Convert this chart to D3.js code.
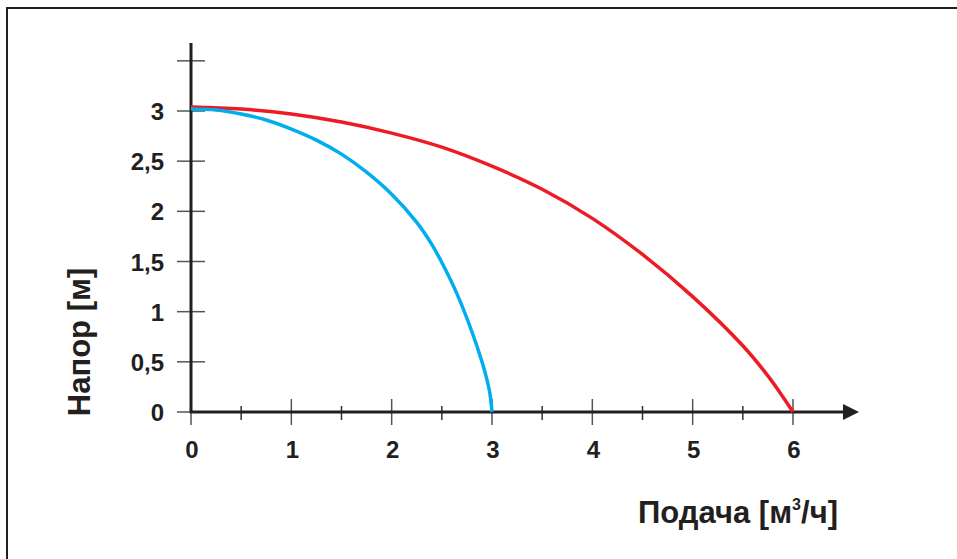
<!DOCTYPE html>
<html><head><meta charset="utf-8">
<script src="https://cdn.jsdelivr.net/npm/d3@7"></script>
<style>body{margin:0;background:#fff}svg{display:block}text{font-family:"Liberation Sans",Arial,sans-serif;font-weight:bold;fill:#231f20}</style>
</head><body>
<script>
const redQ = [0, 0.5, 1, 1.5, 2, 2.5, 3, 3.5, 4, 4.5, 5, 5.5, 5.75, 5.9, 6];
const redH = [3.04, 3.02, 2.97, 2.89, 2.78, 2.64, 2.45, 2.22, 1.93, 1.57, 1.15, 0.66, 0.36, 0.15, 0];
const blueQ = [0, 0.25, 0.5, 0.75, 1, 1.25, 1.5, 1.75, 2, 2.25, 2.4, 2.5, 2.65, 2.8, 2.9, 2.95, 2.98, 3];
const blueH = [3.02, 3.01, 2.97, 2.91, 2.82, 2.71, 2.57, 2.39, 2.17, 1.89, 1.67, 1.49, 1.18, 0.80, 0.50, 0.32, 0.18, 0];
const xTicks = [0, 1, 2, 3, 4, 5, 6];
const xMinor = [0.5, 1.5, 2.5, 3.5, 4.5, 5.5];
const yTicks = [0, 0.5, 1, 1.5, 2, 2.5, 3, 3.5];
const yLabels = ["0", "0,5", "1", "1,5", "2", "2,5", "3", ""];

const W = 957, H = 559;
const svg = d3.select("body").append("svg").attr("width", W).attr("height", H);
svg.append("rect").attr("x", 7).attr("y", 8).attr("width", 1000).attr("height", 600)
  .attr("fill", "none").attr("stroke", "#231f20").attr("stroke-width", 2);

const x = d3.scaleLinear().domain([0, 6]).range([191, 793]);
const y = d3.scaleLinear().domain([0, 3]).range([412, 111]);

// y ticks
svg.selectAll(".yt").data(yTicks).join("line")
  .attr("x1", 177).attr("x2", 205).attr("y1", d => y(d)).attr("y2", d => y(d))
  .attr("stroke", "#555").attr("stroke-width", 1.5);
svg.selectAll(".yl").data(yTicks).join("text")
  .attr("x", 164).attr("y", d => y(d) + 9).attr("text-anchor", "end")
  .attr("font-size", 24).text((d, i) => yLabels[i]);

// x ticks
svg.selectAll(".xt").data(xTicks).join("line")
  .attr("x1", d => x(d)).attr("x2", d => x(d)).attr("y1", d => d === 0 ? 412 : 399).attr("y2", 425)
  .attr("stroke", "#555").attr("stroke-width", 1.5);
svg.selectAll(".xm").data(xMinor).join("line")
  .attr("x1", d => x(d)).attr("x2", d => x(d)).attr("y1", 406).attr("y2", 420)
  .attr("stroke", "#333").attr("stroke-width", 1.5);
svg.selectAll(".xl").data(xTicks).join("text")
  .attr("x", d => x(d) + 1).attr("y", 458).attr("text-anchor", "middle")
  .attr("font-size", 24).text(d => d);

// axes
svg.append("line").attr("x1", 191).attr("x2", 191).attr("y1", 43).attr("y2", 413)
  .attr("stroke", "#231f20").attr("stroke-width", 3);
svg.append("line").attr("x1", 190).attr("x2", 845).attr("y1", 412).attr("y2", 412)
  .attr("stroke", "#231f20").attr("stroke-width", 3);
svg.append("path").attr("d", "M843,404 L859,412 L843,420 Z").attr("fill", "#231f20");

// curves
const line = d3.line().x(d => x(d[0])).y(d => y(d[1])).curve(d3.curveCatmullRom.alpha(0.5));
svg.append("path").attr("d", line(redQ.map((q, i) => [q, redH[i]])))
  .attr("fill", "none").attr("stroke", "#ed1c24").attr("stroke-width", 3.5);
svg.append("path").attr("d", line(blueQ.map((q, i) => [q, blueH[i]])))
  .attr("fill", "none").attr("stroke", "#00aeef").attr("stroke-width", 3.5);

// titles
const xt = svg.append("text").attr("x", 738).attr("y", 523).attr("text-anchor", "middle").attr("font-size", 31);
xt.append("tspan").text("Подача [м");
xt.append("tspan").attr("font-size", 16).attr("dy", -13).text("3");
xt.append("tspan").attr("dy", 13).text("/ч]");

svg.append("text").attr("transform", "translate(90,342) rotate(-90)").attr("text-anchor", "middle")
  .attr("font-size", 31).text("Напор [м]");
</script>
</body></html>
